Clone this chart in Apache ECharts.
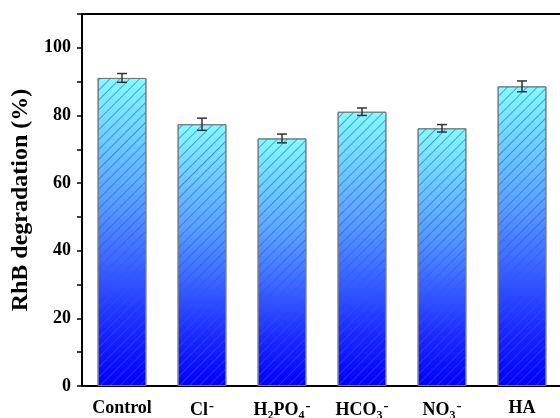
<!DOCTYPE html>
<html>
<head>
<meta charset="utf-8">
<script src="https://cdn.jsdelivr.net/npm/echarts@6/dist/echarts.min.js"></script>
<style>
  html, body { margin: 0; padding: 0; background: #fff; }
  #chart { width: 560px; height: 418px; }
</style>
</head>
<body>
<div id="chart"></div>
<script>
const categories = ['Control', 'Cl{sup|-}', 'H{sub|2}PO{sub|4}{sup|-}', 'HCO{sub|3}{sup|-}', 'NO{sub|3}{sup|-}', 'HA'];
const degradation = [91.1, 77.4, 73.2, 81.1, 76.2, 88.6];
const errors = [1.3, 1.8, 1.3, 1.1, 1.1, 1.6];
const yTicks = [0, 20, 40, 60, 80, 100];

const chart = echarts.init(document.getElementById('chart'));
const serif = '"Liberation Serif", "Times New Roman", serif';

const option = {
  animation: false,
  grid: { left: 82, top: 14, width: 480, bottom: 32, outerBoundsMode: 'none' },
  xAxis: [
    {
      type: 'category',
      data: categories,
      axisLine: { lineStyle: { color: '#000', width: 2 } },
      axisTick: { alignWithLabel: true, length: 5, lineStyle: { color: '#000', width: 1.5 } },
      axisLabel: {
        interval: 0,
        margin: 13,
        color: '#000',
        fontFamily: serif,
        fontWeight: 'bold',
        fontSize: 18,
        rich: {
          sub: { fontFamily: serif, fontWeight: 'bold', fontSize: 12, verticalAlign: 'bottom', padding: [10, 0, 0, 0] },
          sup: { fontFamily: serif, fontWeight: 'bold', fontSize: 15, verticalAlign: 'top', padding: [0, 0, 8, 1] }
        }
      }
    },
    {
      type: 'category',
      data: categories,
      position: 'bottom',
      axisLine: { show: false },
      axisTick: { alignWithLabel: false, length: 5, lineStyle: { color: '#000', width: 1.5 } },
      axisLabel: { show: false }
    },
    {
      type: 'category',
      data: categories,
      position: 'top',
      axisLine: { lineStyle: { color: '#000', width: 2 } },
      axisTick: { show: false },
      axisLabel: { show: false }
    }
  ],
  yAxis: {
    type: 'value',
    min: 0,
    max: 110,
    interval: 20,
    name: 'RhB degradation (%)',
    nameLocation: 'middle',
    nameGap: 42,
    nameTextStyle: { fontFamily: serif, fontWeight: 'bold', fontSize: 24, color: '#000' },
    axisLine: { show: true, lineStyle: { color: '#000', width: 2 } },
    axisTick: { show: true, length: 5, lineStyle: { color: '#000', width: 1.5 } },
    minorTick: { show: true, splitNumber: 2, length: 5, lineStyle: { color: '#000', width: 1.5 } },
    splitLine: { show: false },
    axisLabel: {
      color: '#000',
      fontFamily: serif,
      fontWeight: 'bold',
      fontSize: 18,
      margin: 11,
      formatter: v => (yTicks.includes(v) ? String(v) : '')
    }
  },
  series: [
    {
      type: 'bar',
      data: degradation,
      barWidth: '61%',
      itemStyle: {
        borderColor: '#7a7a7a',
        borderWidth: 1,
        color: new echarts.graphic.LinearGradient(0, 0, 0, 1, [
          { offset: 0, color: '#80ffff' },
          { offset: 0.4, color: '#55a0ff' },
          { offset: 0.8, color: '#1a2cff' },
          { offset: 1, color: '#0000ff' }
        ]),
        decal: {
          symbol: 'rect',
          symbolSize: 1,
          dashArrayX: [1, 0],
          dashArrayY: [1, 6],
          rotation: -Math.PI / 4,
          color: 'rgba(70, 70, 255, 0.6)'
        }
      }
    },
    {
      type: 'custom',
      data: degradation.map((v, i) => [i, v, errors[i]]),
      z: 10,
      renderItem: function (params, api) {
        const x = api.value(0);
        const v = api.value(1);
        const e = api.value(2);
        const hi = api.coord([x, v + e]);
        const lo = api.coord([x, v - e]);
        const w = 5;
        const style = { stroke: '#333', lineWidth: 1.5 };
        return {
          type: 'group',
          children: [
            { type: 'line', shape: { x1: hi[0], y1: hi[1], x2: lo[0], y2: lo[1] }, style },
            { type: 'line', shape: { x1: hi[0] - w, y1: hi[1], x2: hi[0] + w, y2: hi[1] }, style },
            { type: 'line', shape: { x1: lo[0] - w, y1: lo[1], x2: lo[0] + w, y2: lo[1] }, style }
          ]
        };
      }
    }
  ]
};

chart.setOption(option);
</script>
</body>
</html>
